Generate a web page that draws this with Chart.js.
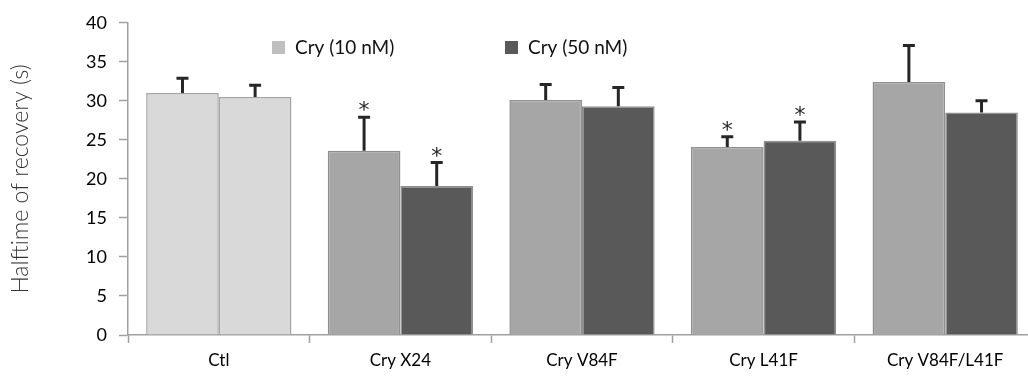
<!DOCTYPE html>
<html>
<head>
<meta charset="utf-8">
<script src="https://cdn.jsdelivr.net/npm/chart.js@4"></script>
<style>
  html, body { margin: 0; padding: 0; background: #fff; }
  #wrap { width: 1028px; height: 376px; }
</style>
</head>
<body>
<div id="wrap"><canvas id="chart"></canvas></div>
<script>
const categories = ['Ctl', 'Cry X24', 'Cry V84F', 'Cry L41F', 'Cry V84F/L41F']
const seriesNames = ['Cry (10 nM)', 'Cry (50 nM)']
const values10 = [31.0, 23.6, 30.1, 24.1, 32.4]
const values50 = [30.5, 19.1, 29.3, 24.9, 28.5]
const errors10 = [1.9, 4.3, 2.0, 1.3, 4.7]
const errors50 = [1.5, 3.0, 2.4, 2.4, 1.5]
const starred10 = [false, true, false, true, false]
const starred50 = [false, true, false, true, false]
const yTicks = [0, 5, 10, 15, 20, 25, 30, 35, 40]

const ctlColor = '#d9d9d9'
const lightColor = '#a6a6a6'
const darkColor = '#595959'
const legendColors = ['#bfbfbf', darkColor]
const fontFamily = 'Lato, "Open Sans", sans-serif'

// error bars + significance stars, positioned through the chart scales
const errorBars = {
  id: 'errorBars',
  afterDatasetsDraw(chart) {
    const { ctx } = chart
    const y = chart.scales.y
    const errs = [errors10, errors50]
    const stars = [starred10, starred50]
    chart.data.datasets.forEach((ds, di) => {
      const meta = chart.getDatasetMeta(di)
      meta.data.forEach((bar, i) => {
        const top = y.getPixelForValue(ds.data[i])
        const end = y.getPixelForValue(ds.data[i] + errs[di][i])
        ctx.save()
        ctx.strokeStyle = '#262626'
        ctx.lineWidth = 3
        ctx.beginPath()
        ctx.moveTo(bar.x, top)
        ctx.lineTo(bar.x, end)
        ctx.moveTo(bar.x - 6, end)
        ctx.lineTo(bar.x + 6, end)
        ctx.stroke()
        if (stars[di][i]) {
          ctx.fillStyle = '#262626'
          ctx.font = '22px "DejaVu Sans", sans-serif'
          ctx.textAlign = 'center'
          ctx.textBaseline = 'alphabetic'
          ctx.fillText('*', bar.x, end)
        }
        ctx.restore()
      })
    })
  }
}

// legend drawn inside the plot area, like the original
const innerLegend = {
  id: 'innerLegend',
  afterDraw(chart) {
    const { ctx } = chart
    const xs = [272, 505]
    ctx.save()
    ctx.font = '19px ' + fontFamily
    ctx.textBaseline = 'middle'
    ctx.textAlign = 'left'
    chart.data.datasets.forEach((ds, i) => {
      ctx.fillStyle = legendColors[i]
      ctx.fillRect(xs[i], 41, 13, 13)
      ctx.fillStyle = '#111'
      ctx.fillText(ds.label, xs[i] + 23, 48)
    })
    ctx.restore()
  }
}

// the original plot runs a little past the right edge of the picture
const widenPlot = {
  id: 'widenPlot',
  afterLayout(chart) {
    const x = chart.scales.x
    const right = 1036
    chart.chartArea.right = right
    chart.chartArea.width = right - chart.chartArea.left
    x.right = right
    x.width = right - x.left
    x.configure()
  }
}

new Chart(document.getElementById('chart'), {
  type: 'bar',
  data: {
    labels: categories,
    datasets: [
      {
        label: seriesNames[0],
        data: values10,
        backgroundColor: values10.map((v, i) => (i === 0 ? ctlColor : lightColor)),
        borderColor: values10.map((v, i) => (i === 0 ? '#a3a3a3' : '#8f8f8f')),
        borderWidth: 1.5
      },
      {
        label: seriesNames[1],
        data: values50,
        backgroundColor: values50.map((v, i) => (i === 0 ? ctlColor : darkColor)),
        borderColor: values50.map((v, i) => (i === 0 ? '#a3a3a3' : '#8f8f8f')),
        borderWidth: 1.5
      }
    ]
  },
  options: {
    responsive: true,
    maintainAspectRatio: false,
    animation: false,
    layout: { padding: { top: 19, left: 0, right: 0, bottom: 0 } },
    plugins: {
      legend: { display: false },
      tooltip: { enabled: false }
    },
    datasets: {
      bar: { categoryPercentage: 0.8, barPercentage: 1.0 }
    },
    scales: {
      x: {
        afterFit: scale => { scale.height = 41 },
        grid: {
          drawOnChartArea: false,
          color: '#a0a0a0',
          tickLength: 8,
          tickWidth: 1.5
        },
        border: { color: '#a0a0a0', width: 1.5 },
        ticks: {
          color: '#000',
          padding: 7,
          font: { family: fontFamily, size: 17 }
        }
      },
      y: {
        min: 0,
        max: 40,
        afterFit: scale => { scale.width = 128 },
        afterBuildTicks: scale => { scale.ticks = yTicks.map(v => ({ value: v })) },
        grid: {
          drawOnChartArea: false,
          color: '#a0a0a0',
          tickLength: 9,
          tickWidth: 1.5
        },
        border: { color: '#a0a0a0', width: 1.5 },
        ticks: {
          color: '#000',
          padding: 12,
          font: { family: fontFamily, size: 18 }
        },
        title: {
          display: true,
          text: 'Halftime of recovery (s)',
          color: '#333',
          padding: { top: 7, bottom: 0 },
          font: { family: fontFamily, size: 23, weight: '300' }
        }
      }
    }
  },
  plugins: [errorBars, innerLegend, widenPlot]
})
</script>
</body>
</html>
